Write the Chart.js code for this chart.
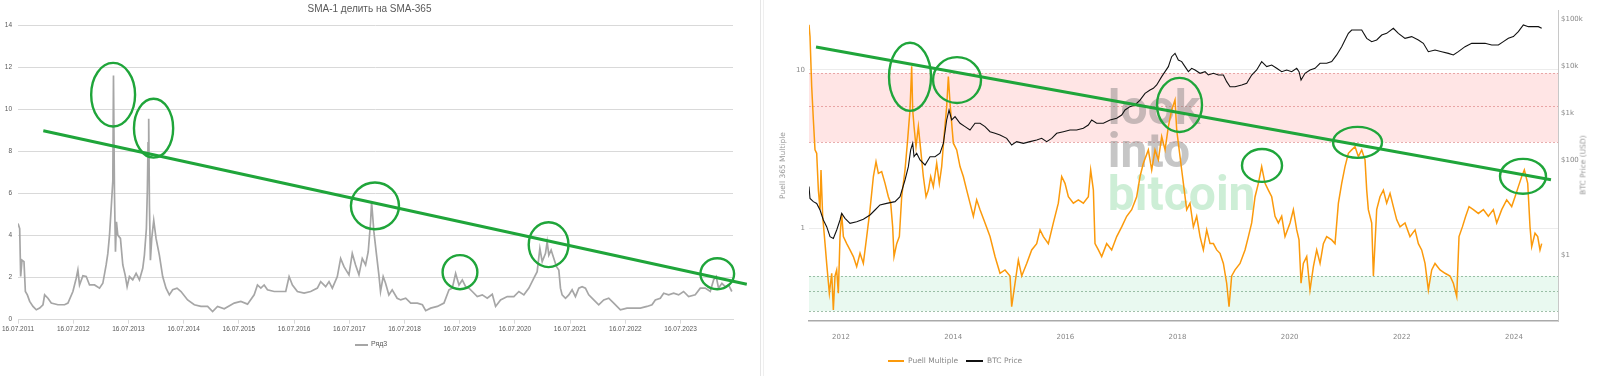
<!DOCTYPE html>
<html>
<head>
<meta charset="utf-8">
<script src="https://cdn.jsdelivr.net/npm/chart.js@4.4.1/dist/chart.umd.min.js"></script>
<style>
  html, body { margin: 0; padding: 0; background: #fff; }
  body { position: relative; width: 1600px; height: 376px; overflow: hidden; font-family: "DejaVu Sans", sans-serif; }
  canvas { position: absolute; top: 0; }
  #smaChart { left: 0; }
  #puellChart { left: 762px; }
  .sep { position: absolute; top: 0; width: 1px; height: 376px; background: #e6e6e6; }
  .txt { position: absolute; white-space: nowrap; }
  .swatch { position: absolute; height: 1.5px; }
  #smaTitle { left: 0; width: 739px; top: 3px; text-align: center; font: 10px "Liberation Sans", sans-serif; color: #595959; }
  #smaLegend { left: 371px; top: 340px; font: 7px "Liberation Sans", sans-serif; color: #595959; }
  .rlegend { top: 356px; font: 7.5px "DejaVu Sans", sans-serif; color: #888; }
  #priceTitle { left: 1583px; top: 165px; font: 7.5px "DejaVu Sans", sans-serif; color: #999;
                transform: translate(-50%, -50%) rotate(-90deg); }
</style>
</head>
<body>
<div class="sep" style="left:760px"></div>
<div class="sep" style="left:763px; background:#efefef"></div>

<canvas id="smaChart" width="760" height="376"></canvas>
<canvas id="puellChart" width="838" height="376"></canvas>

<div class="txt" id="smaTitle">SMA-1 делить на SMA-365</div>
<div class="swatch" style="left:355px; top:344px; width:13px; background:#a6a6a6"></div>
<div class="txt" id="smaLegend">Ряд3</div>

<div class="swatch" style="left:888px; top:360px; width:16px; background:#fb9a0c"></div>
<div class="txt rlegend" style="left:908px">Puell Multiple</div>
<div class="swatch" style="left:966px; top:360px; width:17px; background:#111"></div>
<div class="txt rlegend" style="left:987px">BTC Price</div>
<div class="txt" id="priceTitle">BTC Price (USD)</div>

<script>
// ---- Left chart: SMA-1 / SMA-365, x = years since 16.07.2011 ----
var SMA_T = [
  0.000, 0.030, 0.048, 0.072, 0.108, 0.133, 0.169, 0.211, 0.271, 0.331,
  0.392, 0.452, 0.482, 0.542, 0.602, 0.723, 0.843, 0.904, 0.994, 1.054,
  1.084, 1.114, 1.175, 1.235, 1.295, 1.386, 1.476, 1.536, 1.596, 1.627,
  1.657, 1.687, 1.717, 1.729, 1.747, 1.765, 1.783, 1.807, 1.855, 1.898,
  1.940, 1.976, 2.018, 2.078, 2.139, 2.199, 2.259, 2.289, 2.325, 2.343,
  2.355, 2.367, 2.380, 2.398, 2.422, 2.458, 2.500, 2.560, 2.620, 2.681,
  2.741, 2.801, 2.880, 2.952, 3.072, 3.193, 3.313, 3.434, 3.524, 3.614,
  3.735, 3.916, 4.036, 4.157, 4.277, 4.337, 4.398, 4.458, 4.518, 4.639,
  4.759, 4.849, 4.910, 4.970, 5.060, 5.181, 5.301, 5.422, 5.482, 5.572,
  5.633, 5.693, 5.783, 5.843, 5.904, 5.994, 6.054, 6.114, 6.175, 6.235,
  6.295, 6.343, 6.386, 6.404, 6.446, 6.494, 6.536, 6.566, 6.614, 6.657,
  6.717, 6.777, 6.867, 6.932, 7.022, 7.113, 7.233, 7.324, 7.384, 7.474,
  7.595, 7.715, 7.806, 7.866, 7.926, 7.987, 8.047, 8.107, 8.167, 8.228,
  8.318, 8.409, 8.499, 8.590, 8.650, 8.740, 8.861, 8.981, 9.072, 9.162,
  9.253, 9.343, 9.403, 9.452, 9.494, 9.554, 9.584, 9.614, 9.656, 9.705,
  9.753, 9.795, 9.825, 9.855, 9.916, 9.976, 10.036, 10.096, 10.157, 10.217,
  10.277, 10.337, 10.428, 10.518, 10.609, 10.699, 10.790, 10.910, 11.031, 11.151,
  11.272, 11.392, 11.483, 11.543, 11.633, 11.694, 11.784, 11.875, 11.965, 12.055,
  12.146, 12.266, 12.357, 12.447, 12.538, 12.598, 12.646, 12.688, 12.749, 12.809,
  12.869, 12.929
];
var SMA_V = [
  4.57, 4.33, 2.05, 2.83, 2.76, 1.34, 1.18, 0.87, 0.63, 0.47,
  0.55, 0.71, 1.18, 1.02, 0.79, 0.71, 0.71, 0.79, 1.34, 1.97,
  2.36, 1.65, 2.09, 2.05, 1.65, 1.65, 1.50, 1.73, 2.60, 3.15,
  4.02, 5.28, 6.6, 11.6, 6.0, 3.23, 4.65, 4.02, 3.86, 2.60,
  2.13, 1.57, 2.05, 1.89, 2.20, 1.89, 2.44, 3.07, 4.33, 6.2,
  8.4, 9.55, 5.5, 2.83, 3.86, 4.72, 3.86, 3.07, 2.05, 1.50,
  1.18, 1.42, 1.50, 1.34, 0.94, 0.71, 0.63, 0.63, 0.39, 0.63,
  0.52, 0.79, 0.87, 0.74, 1.18, 1.65, 1.50, 1.65, 1.42, 1.34,
  1.34, 1.34, 2.05, 1.65, 1.34, 1.26, 1.34, 1.50, 1.81, 1.57,
  1.81, 1.50, 2.05, 2.91, 2.52, 2.13, 3.15, 2.60, 2.13, 2.91,
  2.60, 3.23, 4.65, 5.59, 4.17, 3.07, 2.13, 1.34, 2.05, 1.73,
  1.18, 1.42, 1.02, 0.94, 1.02, 0.79, 0.79, 0.71, 0.43, 0.55,
  0.63, 0.79, 1.42, 1.50, 2.20, 1.65, 1.89, 1.57, 1.50, 1.34,
  1.10, 1.18, 1.02, 1.21, 0.63, 0.94, 1.10, 1.10, 1.34, 1.18,
  1.50, 1.97, 2.28, 3.39, 2.76, 3.15, 3.70, 3.07, 3.31, 2.91,
  2.52, 2.36, 1.50, 1.18, 1.02, 1.18, 1.42, 1.10, 1.50, 1.57,
  1.50, 1.18, 0.94, 0.71, 0.94, 1.02, 0.79, 0.47, 0.55, 0.55,
  0.55, 0.63, 0.71, 0.94, 1.02, 1.26, 1.18, 1.26, 1.18, 1.34,
  1.10, 1.18, 1.50, 1.50, 1.34, 1.89, 2.05, 1.50, 1.73, 1.57,
  1.65, 1.34
];
var SMA_YEAR_TICKS = [0, 1, 2, 3, 4, 5, 6, 7, 8, 9, 10, 11, 12];
var SMA_TREND_T = [0.458, 13.2];
var SMA_TREND_V = [8.98, 1.68];
// rings: [t from, t to, value low, value high]
var SMA_RINGS = [
  [1.325, 2.12, 9.18, 12.2],
  [2.10, 2.81, 7.7, 10.5],
  [6.03, 6.90, 4.3, 6.52],
  [7.69, 8.32, 1.45, 3.07],
  [9.25, 9.97, 2.5, 4.63],
  [12.36, 12.97, 1.45, 2.92]
];

// ---- Right chart: Puell Multiple + BTC price, x = decimal year ----
var PUELL_X = [
  2011.429, 2011.447, 2011.477, 2011.507, 2011.536, 2011.566, 2011.596, 2011.626, 2011.643, 2011.673,
  2011.715, 2011.744, 2011.792, 2011.834, 2011.863, 2011.893, 2011.923, 2011.952, 2011.982, 2012.012,
  2012.042, 2012.101, 2012.160, 2012.220, 2012.279, 2012.339, 2012.398, 2012.458, 2012.517, 2012.577,
  2012.624, 2012.666, 2012.725, 2012.785, 2012.844, 2012.886, 2012.921, 2012.945, 2012.993, 2013.040,
  2013.082, 2013.141, 2013.183, 2013.230, 2013.260, 2013.278, 2013.302, 2013.337, 2013.379, 2013.421,
  2013.468, 2013.516, 2013.557, 2013.599, 2013.646, 2013.706, 2013.753, 2013.795, 2013.837, 2013.884,
  2013.914, 2013.944, 2013.973, 2014.003, 2014.063, 2014.122, 2014.181, 2014.241, 2014.300, 2014.360,
  2014.419, 2014.479, 2014.568, 2014.657, 2014.746, 2014.835, 2014.924, 2015.014, 2015.043, 2015.103,
  2015.162, 2015.222, 2015.311, 2015.400, 2015.489, 2015.549, 2015.608, 2015.697, 2015.786, 2015.875,
  2015.935, 2015.994, 2016.054, 2016.143, 2016.232, 2016.321, 2016.410, 2016.452, 2016.500, 2016.529,
  2016.589, 2016.648, 2016.737, 2016.826, 2016.916, 2017.005, 2017.094, 2017.183, 2017.272, 2017.332,
  2017.391, 2017.480, 2017.540, 2017.599, 2017.659, 2017.718, 2017.778, 2017.837, 2017.896, 2017.956,
  2017.986, 2018.015, 2018.075, 2018.105, 2018.164, 2018.223, 2018.283, 2018.342, 2018.402, 2018.461,
  2018.521, 2018.580, 2018.640, 2018.699, 2018.758, 2018.818, 2018.877, 2018.919, 2018.966, 2019.026,
  2019.115, 2019.204, 2019.264, 2019.323, 2019.383, 2019.442, 2019.501, 2019.561, 2019.620, 2019.680,
  2019.739, 2019.799, 2019.858, 2019.917, 2020.007, 2020.066, 2020.126, 2020.167, 2020.203, 2020.244,
  2020.304, 2020.363, 2020.423, 2020.482, 2020.542, 2020.601, 2020.660, 2020.750, 2020.809, 2020.869,
  2020.928, 2020.987, 2021.047, 2021.106, 2021.166, 2021.225, 2021.285, 2021.344, 2021.374, 2021.403,
  2021.463, 2021.493, 2021.552, 2021.611, 2021.671, 2021.730, 2021.790, 2021.849, 2021.909, 2021.968,
  2022.057, 2022.146, 2022.236, 2022.295, 2022.354, 2022.414, 2022.473, 2022.533, 2022.592, 2022.682,
  2022.771, 2022.860, 2022.919, 2022.979, 2023.020, 2023.080, 2023.139, 2023.199, 2023.276, 2023.365,
  2023.454, 2023.543, 2023.632, 2023.692, 2023.781, 2023.870, 2023.959, 2024.019, 2024.078, 2024.138,
  2024.185, 2024.245, 2024.286, 2024.316, 2024.375, 2024.423, 2024.464, 2024.494
];
var PUELL_V = [
  19.2, 16.2, 7.83, 4.82, 3.12, 2.97, 1.74, 1.31, 2.33, 1.19,
  0.80, 0.60, 0.389, 0.52, 0.305, 0.50, 0.546, 0.389, 0.886, 1.24,
  0.886, 0.80, 0.73, 0.663, 0.573, 0.695, 0.60, 0.886, 1.31, 2.12,
  2.63, 2.22, 2.28, 1.92, 1.58, 1.44, 1.02, 0.663, 0.80, 0.886,
  1.58, 2.33, 3.44, 5.58, 10.5, 5.58, 4.38, 3.27, 4.38, 3.12,
  2.12, 1.58, 1.74, 2.12, 1.83, 2.57, 1.92, 2.45, 3.79, 5.86,
  9.06, 6.15, 4.60, 3.44, 3.12, 2.45, 2.12, 1.74, 1.44, 1.19,
  1.51, 1.31, 1.08, 0.886, 0.663, 0.52, 0.546, 0.50, 0.32, 0.45,
  0.63, 0.50, 0.60, 0.73, 0.80, 0.976, 0.886, 0.80, 1.08, 1.44,
  2.12, 1.92, 1.58, 1.44, 1.51, 1.44, 1.58, 2.33, 1.74, 0.80,
  0.73, 0.663, 0.80, 0.73, 0.886, 1.02, 1.19, 1.31, 1.58, 2.12,
  2.57, 3.12, 2.33, 3.12, 2.70, 3.79, 3.12, 4.38, 5.58, 6.45,
  4.17, 3.44, 2.33, 1.92, 1.31, 1.44, 1.02, 1.19, 0.886, 0.73,
  0.976, 0.80, 0.80, 0.73, 0.695, 0.60, 0.45, 0.32, 0.50, 0.546,
  0.60, 0.73, 0.886, 1.08, 1.58, 1.92, 2.45, 1.92, 1.74, 1.58,
  1.19, 1.08, 1.19, 0.886, 1.08, 1.31, 0.976, 0.844, 0.45, 0.60,
  0.663, 0.408, 0.573, 0.73, 0.60, 0.80, 0.886, 0.844, 0.80, 1.44,
  1.92, 2.45, 2.97, 3.12, 3.27, 2.83, 3.12, 2.70, 1.74, 1.31,
  1.08, 0.50, 1.31, 1.58, 1.74, 1.44, 1.66, 1.37, 1.13, 1.02,
  1.08, 0.886, 0.976, 0.80, 0.73, 0.60, 0.408, 0.546, 0.60, 0.546,
  0.52, 0.50, 0.45, 0.371, 0.886, 1.02, 1.19, 1.37, 1.31, 1.24,
  1.31, 1.19, 1.31, 1.08, 1.31, 1.51, 1.37, 1.58, 1.83, 2.12,
  2.33, 1.92, 1.02, 0.766, 0.93, 0.886, 0.73, 0.80
];
var BTC_X = [
  2011.429, 2011.447, 2011.507, 2011.566, 2011.626, 2011.685, 2011.744, 2011.804, 2011.863, 2011.923,
  2011.982, 2012.012, 2012.071, 2012.160, 2012.279, 2012.398, 2012.517, 2012.606, 2012.695, 2012.814,
  2012.963, 2013.052, 2013.141, 2013.201, 2013.242, 2013.278, 2013.302, 2013.349, 2013.409, 2013.498,
  2013.587, 2013.676, 2013.765, 2013.825, 2013.884, 2013.926, 2013.973, 2014.033, 2014.122, 2014.211,
  2014.300, 2014.389, 2014.479, 2014.568, 2014.657, 2014.746, 2014.835, 2014.954, 2015.043, 2015.132,
  2015.251, 2015.370, 2015.489, 2015.578, 2015.667, 2015.757, 2015.846, 2015.965, 2016.083, 2016.202,
  2016.321, 2016.410, 2016.470, 2016.559, 2016.678, 2016.797, 2016.916, 2017.005, 2017.064, 2017.153,
  2017.243, 2017.332, 2017.421, 2017.510, 2017.569, 2017.629, 2017.718, 2017.778, 2017.837, 2017.896,
  2017.956, 2018.015, 2018.075, 2018.134, 2018.194, 2018.253, 2018.313, 2018.402, 2018.491, 2018.550,
  2018.640, 2018.729, 2018.818, 2018.877, 2018.937, 2019.026, 2019.145, 2019.234, 2019.323, 2019.412,
  2019.501, 2019.591, 2019.680, 2019.769, 2019.858, 2019.947, 2020.036, 2020.126, 2020.167, 2020.203,
  2020.274, 2020.363, 2020.453, 2020.542, 2020.660, 2020.750, 2020.839, 2020.928, 2020.987, 2021.047,
  2021.106, 2021.195, 2021.285, 2021.374, 2021.463, 2021.552, 2021.641, 2021.730, 2021.849, 2021.938,
  2022.057, 2022.176, 2022.295, 2022.384, 2022.473, 2022.592, 2022.711, 2022.830, 2022.919, 2023.008,
  2023.127, 2023.246, 2023.365, 2023.484, 2023.603, 2023.722, 2023.811, 2023.900, 2023.989, 2024.078,
  2024.167, 2024.257, 2024.346, 2024.435, 2024.494
];
var BTC_V = [
  28.1, 15.8, 13.5, 12.4, 8.98, 5.52, 3.98, 2.44, 2.25, 3.39,
  5.52, 7.64, 5.98, 4.69, 5.08, 5.70, 7.04, 8.98, 11.5, 12.4,
  13.5, 17.2, 38.8, 74.3, 168, 232, 121, 143, 103, 80.7,
  121, 121, 143, 232, 725, 1180, 725, 853, 617, 524,
  445, 617, 617, 524, 410, 378, 349, 296, 214, 252,
  232, 252, 273, 296, 252, 296, 378, 410, 445, 445,
  483, 568, 725, 617, 617, 725, 787, 925, 1180, 1390,
  1510, 1920, 2660, 3130, 3400, 4000, 6000, 7660, 9780, 15900,
  18700, 13500, 12500, 9780, 7660, 9010, 8300, 7060, 7660, 6510,
  7060, 6510, 6510, 4700, 3680, 3680, 4000, 4340, 6510, 8300,
  12500, 9780, 10600, 9010, 7660, 8300, 7660, 9010, 7660, 5100,
  7060, 8300, 9010, 11500, 11500, 12500, 17300, 25900, 35900, 49700,
  58400, 58400, 58400, 38900, 33100, 35900, 45800, 49700, 63400, 49700,
  38900, 42300, 35900, 30500, 20300, 22000, 20300, 18700, 17300, 20300,
  25900, 30500, 30500, 30500, 28100, 28100, 33100, 38900, 42300, 54000,
  74600, 68800, 68800, 68800, 63400
];
var PUELL_YEAR_TICKS = [2012, 2014, 2016, 2018, 2020, 2022, 2024];
var PUELL_TICKS = [1, 10];
var PRICE_TICKS = [1, 100, 1000, 10000, 100000];
var PRICE_LABELS = ["$1", "$100", "$1k", "$10k", "$100k"];
var PUELL_RED_ZONE = [3.49, 5.93, 9.5];     // low, mid, high
var PUELL_GREEN_ZONE = [0.30, 0.40, 0.50];
var PUELL_TREND_X = [2011.554, 2024.66];
var PUELL_TREND_V = [13.9, 2.02];
var PUELL_RINGS = [
  [2012.856, 2013.605, 5.50, 14.8],
  [2013.641, 2014.496, 6.17, 12.0],
  [2017.635, 2018.437, 4.05, 8.88],
  [2019.150, 2019.864, 1.96, 3.16],
  [2020.773, 2021.647, 2.78, 4.36],
  [2023.751, 2024.571, 1.65, 2.74]
];

var GREEN = "#1fa53a";

function pts(xs, ys) {
  return xs.map(function(x, i) { return { x: x, y: ys[i] }; });
}
function fixedTicks(list) {
  return function(scale) { scale.ticks = list.map(function(v) { return { value: v }; }); };
}

// hand-drawn style green rings, positioned in data units
var ringPlugin = {
  id: "rings",
  afterDatasetsDraw: function(chart, args, opts) {
    var xs = chart.scales.x, ys = chart.scales.y, ctx = chart.ctx;
    ctx.save();
    ctx.strokeStyle = GREEN;
    ctx.lineWidth = 2.4;
    opts.list.forEach(function(r) {
      var x0 = xs.getPixelForValue(r[0]), x1 = xs.getPixelForValue(r[1]);
      var y0 = ys.getPixelForValue(r[2]), y1 = ys.getPixelForValue(r[3]);
      ctx.beginPath();
      ctx.ellipse((x0 + x1) / 2, (y0 + y1) / 2, Math.abs(x1 - x0) / 2, Math.abs(y1 - y0) / 2, 0, 0, Math.PI * 2);
      ctx.stroke();
    });
    ctx.restore();
  }
};

// coloured zones + watermark under the lines
var zonePlugin = {
  id: "zones",
  beforeDatasetsDraw: function(chart, args, opts) {
    var a = chart.chartArea, y = chart.scales.y, ctx = chart.ctx;
    ctx.save();
    opts.zones.forEach(function(z) {
      var top = y.getPixelForValue(z.values[2]), bot = y.getPixelForValue(z.values[0]);
      ctx.fillStyle = z.fill;
      ctx.fillRect(a.left, top, a.right - a.left, bot - top);
      ctx.strokeStyle = z.line;
      ctx.lineWidth = 1;
      ctx.setLineDash([2, 2]);
      z.values.forEach(function(v) {
        var p = Math.round(y.getPixelForValue(v)) + 0.5;
        ctx.beginPath();
        ctx.moveTo(a.left, p);
        ctx.lineTo(a.right, p);
        ctx.stroke();
      });
    });
    ctx.setLineDash([]);

    var wx = a.left + (a.right - a.left) * 0.399;
    var h = a.bottom - a.top;
    ctx.font = "bold 48px Roboto";
    ctx.textBaseline = "alphabetic";
    ctx.fillStyle = "rgba(120, 120, 120, 0.42)";
    ctx.fillText("look", wx, a.top + h * 0.365);
    ctx.fillText("into", wx, a.top + h * 0.505);
    ctx.fillStyle = "rgba(90, 200, 120, 0.3)";
    ctx.fillText("bitcoin", wx, a.top + h * 0.643);
    ctx.restore();
  }
};

// ---- left chart ----
new Chart(document.getElementById("smaChart"), {
  type: "line",
  data: {
    datasets: [
      { label: "trend", data: pts(SMA_TREND_T, SMA_TREND_V), borderColor: GREEN, borderWidth: 3,
        pointRadius: 0, clip: false },
      { label: "Ряд3", data: pts(SMA_T, SMA_V), borderColor: "#a6a6a6", borderWidth: 1.7,
        pointRadius: 0 },
    ],
  },
  options: {
    responsive: false,
    animation: false,
    events: [],
    layout: { padding: { top: 25, right: 27, left: 0, bottom: 0 } },
    plugins: {
      legend:  { display: false },
      tooltip: { enabled: false },
      rings:   { list: SMA_RINGS },
    },
    scales: {
      x: {
        type: "linear", min: 0, max: 12.95,
        afterBuildTicks: fixedTicks(SMA_YEAR_TICKS),
        afterFit: function(s) { s.height = 56.3; },
        grid:   { drawOnChartArea: false, color: "#d9d9d9", tickLength: 4 },
        border: { color: "#d9d9d9" },
        ticks: {
          color: "#595959", font: { family: "Liberation Sans", size: 6.5 },
          maxRotation: 0, autoSkip: false, padding: 2,
          callback: function(v) { return "16.07." + (2011 + v); },
        },
      },
      y: {
        min: 0, max: 14,
        afterFit: function(s) { s.width = 16.7; },
        grid:   { color: "#d9d9d9", drawTicks: false },
        border: { display: false },
        ticks:  { stepSize: 2, color: "#595959", font: { family: "Liberation Sans", size: 6.5 }, padding: 6 },
      },
    },
  },
  plugins: [ringPlugin],
});

// ---- right chart ----
new Chart(document.getElementById("puellChart"), {
  type: "line",
  data: {
    datasets: [
      { label: "trend", data: pts(PUELL_TREND_X, PUELL_TREND_V), yAxisID: "y", borderColor: GREEN,
        borderWidth: 3, pointRadius: 0, order: 0 },
      { label: "BTC Price", data: pts(BTC_X, BTC_V), yAxisID: "price", borderColor: "#111",
        borderWidth: 1.1, pointRadius: 0, order: 1 },
      { label: "Puell Multiple", data: pts(PUELL_X, PUELL_V), yAxisID: "y", borderColor: "#fb9a0c",
        borderWidth: 1.5, pointRadius: 0, order: 2 },
    ],
  },
  options: {
    responsive: false,
    animation: false,
    events: [],
    layout: { padding: { top: 10, right: 0, left: 0, bottom: 0 } },
    plugins: {
      legend:  { display: false },
      tooltip: { enabled: false },
      rings:   { list: PUELL_RINGS },
      zones: {
        zones: [
          { values: PUELL_RED_ZONE,   fill: "rgba(255, 0, 0, 0.1)",     line: "rgba(215, 110, 110, 0.55)" },
          { values: PUELL_GREEN_ZONE, fill: "rgba(40, 200, 110, 0.1)",  line: "rgba(100, 150, 115, 0.6)" },
        ],
      },
    },
    scales: {
      x: {
        type: "linear", min: 2011.429, max: 2024.785,
        afterBuildTicks: fixedTicks(PUELL_YEAR_TICKS),
        afterFit: function(s) { s.height = 55; },
        grid:   { display: false },
        border: { color: "#aaa", width: 1.5 },
        ticks: {
          color: "#888", font: { family: "DejaVu Sans", size: 7 }, padding: 4,
          maxRotation: 0, autoSkip: false,
          callback: function(v) { return String(v); },
        },
      },
      y: {
        type: "logarithmic", position: "left", min: 0.26, max: 23.8,
        afterBuildTicks: fixedTicks(PUELL_TICKS),
        afterFit: function(s) { s.width = 47; },
        grid:   { color: "#ececec", drawTicks: false },
        border: { display: false },
        ticks: {
          color: "#888", font: { family: "DejaVu Sans", size: 7 }, padding: 4,
          callback: function(v) { return String(v); },
        },
        title: {
          display: true, text: "Puell 365 Multiple", color: "#999",
          font: { family: "DejaVu Sans", size: 7.5 }, padding: { top: 16.5, bottom: 0 },
        },
      },
      price: {
        type: "logarithmic", position: "right", min: 0.04, max: 155000,
        afterBuildTicks: fixedTicks(PRICE_TICKS),
        afterFit: function(s) { s.width = 42; },
        grid:   { drawOnChartArea: false, drawTicks: false },
        border: { color: "#c8c8c8" },
        ticks: {
          color: "#888", font: { family: "DejaVu Sans", size: 7 }, padding: 3,
          callback: function(v, i) { return PRICE_LABELS[i]; },
        },
      },
    },
  },
  plugins: [zonePlugin, ringPlugin],
});
</script>
</body>
</html>
